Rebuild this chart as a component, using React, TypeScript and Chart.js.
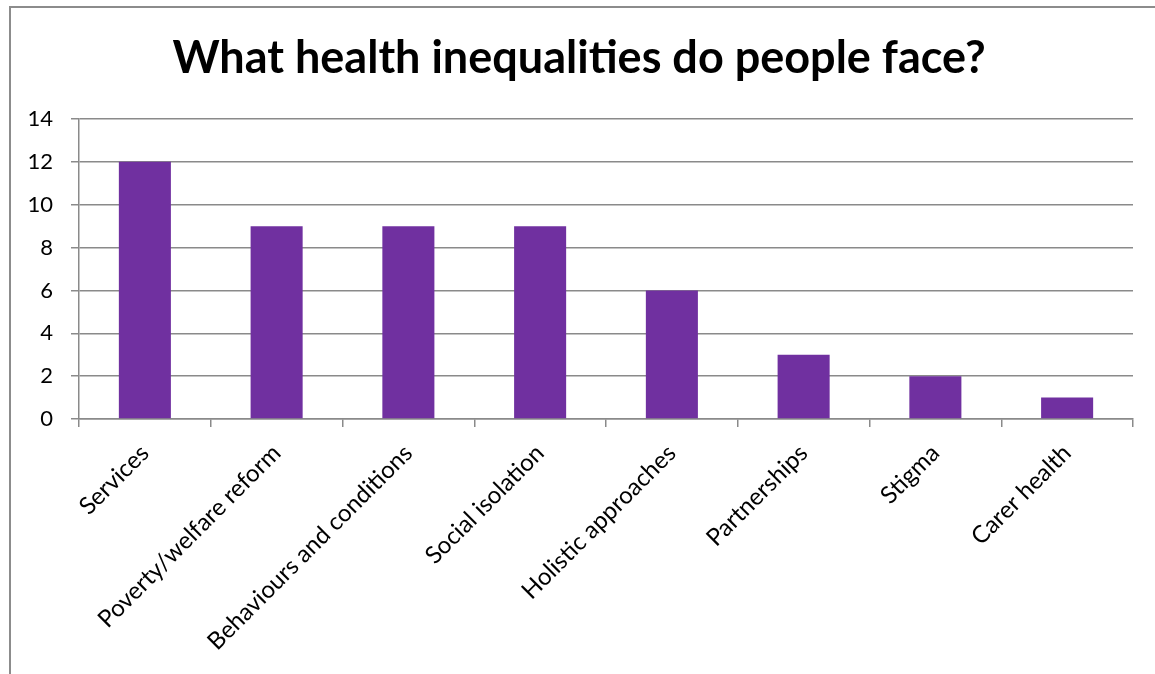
import React, { useEffect, useRef } from "react";
import { Chart, registerables } from "chart.js";

Chart.register(...registerables);

const TITLE = "What health inequalities do people face?";
const categories = [
  "Services",
  "Poverty/welfare reform",
  "Behaviours and conditions",
  "Social isolation",
  "Holistic approaches",
  "Partnerships",
  "Stigma",
  "Carer health",
];
const counts = [12, 9, 9, 9, 6, 3, 2, 1];
const yMin = 0;
const yMax = 14;
const yStep = 2;

const FONT = "Lato, 'Noto Sans', sans-serif";
const GRID = "#8a8a8a";
const PAD_LEFT = 25;

export default function App() {
  const ref = useRef<HTMLCanvasElement | null>(null);

  useEffect(() => {
    if (!ref.current) return;
    const chart = new Chart(ref.current, {
      type: "bar",
      data: {
        labels: categories,
        datasets: [
          {
            data: counts,
            backgroundColor: "#7030A0",
            borderWidth: 0,
            categoryPercentage: 1,
            barPercentage: 0.395,
          },
        ],
      },
      options: {
        animation: false,
        responsive: false,
        maintainAspectRatio: false,
        layout: { padding: { left: PAD_LEFT, right: 37, top: 0, bottom: 0 } },
        plugins: {
          legend: { display: false },
          tooltip: { enabled: false },
          title: {
            display: true,
            text: TITLE,
            color: "#000",
            font: { family: FONT, size: 45, weight: "bold", lineHeight: 1.2 },
            padding: { top: 31, bottom: 34 },
          },
        },
        scales: {
          x: {
            grid: {
              offset: true,
              drawOnChartArea: false,
              drawTicks: true,
              tickLength: 8,
              color: GRID,
              lineWidth: 1.5,
            },
            border: { display: true, color: GRID, width: 1.5 },
            ticks: {
              color: "#000",
              font: { family: FONT, size: 24 },
              minRotation: 45,
              maxRotation: 45,
              autoSkip: false,
              padding: 12,
            },
            afterFit: (scale: any) => {
              scale.height = 674 - 419;
            },
          },
          y: {
            min: yMin,
            max: yMax,
            grid: {
              drawTicks: true,
              tickLength: 8,
              color: GRID,
              lineWidth: 1.5,
            },
            border: { display: true, color: GRID, width: 1.5 },
            ticks: {
              stepSize: yStep,
              color: "#000",
              font: { family: FONT, size: 22 },
              padding: 18,
            },
            afterFit: (scale: any) => {
              scale.width = 79 - PAD_LEFT;
            },
          },
        },
      },
    });
    return () => chart.destroy();
  }, []);

  return (
    <div
      style={{
        position: "absolute",
        left: 0,
        top: 0,
        width: 1155,
        height: 674,
        overflow: "hidden",
        background: "#fff",
      }}
    >
      <div
        style={{
          position: "absolute",
          left: 9,
          top: 6,
          width: 1200,
          height: 720,
          border: "2px solid #8c8c8c",
          boxSizing: "border-box",
        }}
      />
      <canvas
        ref={ref}
        width={1170}
        height={674}
        style={{ position: "absolute", left: 0, top: 0, width: 1170, height: 674 }}
      />
    </div>
  );
}
